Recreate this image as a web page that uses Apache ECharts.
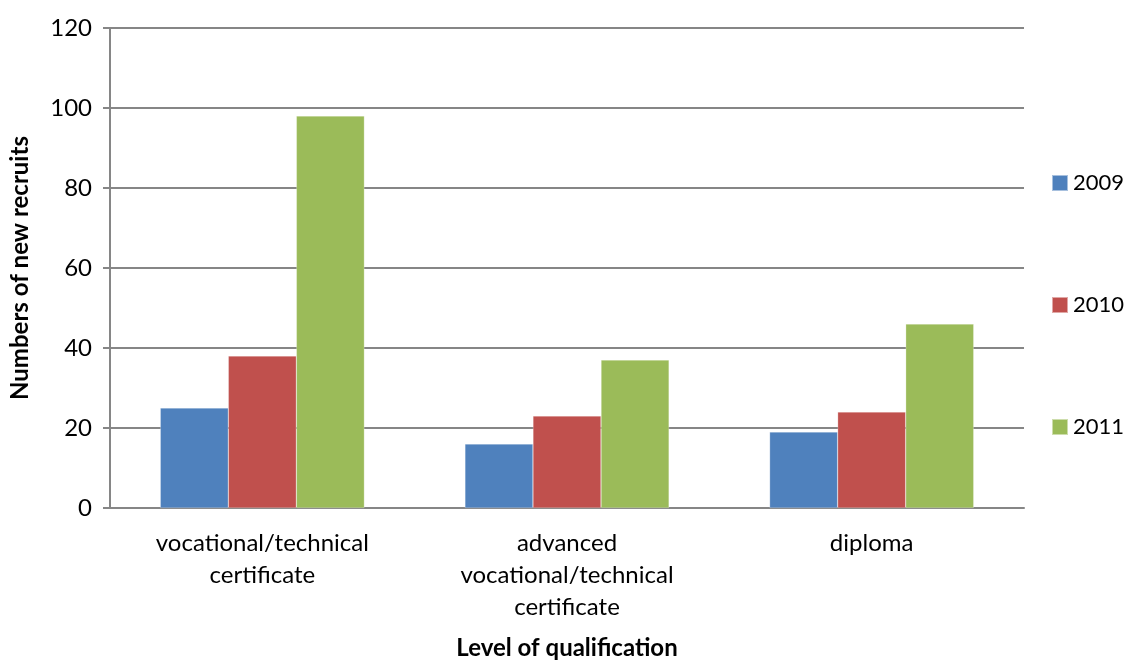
<!DOCTYPE html>
<html>
<head>
<meta charset="utf-8">
<script src="https://cdn.jsdelivr.net/npm/echarts@6/dist/echarts.min.js"></script>
<style>
  html, body { margin: 0; padding: 0; background: #fff; }
  #chart { width: 1129px; height: 660px; }
</style>
</head>
<body>
<div id="chart"></div>
<script>
// categories and the way they wrap under the axis
let categories = ['vocational/technical certificate', 'advanced vocational/technical certificate', 'diploma'];
let tickLabels = ['vocational/technical\ncertificate', 'advanced\nvocational/technical\ncertificate', 'diploma'];

// numbers of new recruits per year
let years = ['2009', '2010', '2011'];
let v2009 = [25, 16, 19];
let v2010 = [38, 23, 24];
let v2011 = [98, 37, 46];

let colors = ['#4F81BD', '#C0504D', '#9BBB59'];
let font = 'Lato, "Open Sans", sans-serif';

let chart = echarts.init(document.getElementById('chart'));

let seriesData = [v2009, v2010, v2011];
let series = [];
for (let i = 0; i < years.length; i++) {
  series.push({
    name: years[i],
    type: 'bar',
    data: seriesData[i],
    barGap: '0%',
    barCategoryGap: '33%',
    itemStyle: { color: colors[i], borderColor: 'rgba(255,255,255,0.5)', borderWidth: 0.5 }
  });
}

let option = {
  animation: false,
  backgroundColor: '#fff',
  textStyle: { fontFamily: font },
  grid: { left: 110, right: 105, top: 28, bottom: 152, outerBoundsMode: 'none' },
  legend: {
    orient: 'vertical',
    left: 1051,
    top: 172,
    padding: 0,
    itemWidth: 16,
    itemHeight: 16,
    itemGap: 100,
    icon: 'rect',
    textStyle: { fontSize: 22, color: '#000', fontFamily: font },
    data: years
  },
  xAxis: {
    type: 'category',
    data: categories,
    name: 'Level of qualification',
    nameLocation: 'middle',
    nameGap: 128,
    nameTextStyle: { fontSize: 24, fontWeight: 'bold', color: '#000', fontFamily: font },
    axisLine: { lineStyle: { color: '#868686', width: 2 } },
    axisTick: { show: false },
    axisLabel: {
      fontSize: 24,
      color: '#000',
      margin: 19,
      lineHeight: 32,
      interval: 0,
      formatter: function (value, index) {
        return tickLabels[index];
      }
    }
  },
  yAxis: {
    type: 'value',
    min: 0,
    max: 120,
    interval: 20,
    name: 'Numbers of new recruits',
    nameLocation: 'middle',
    nameGap: 78,
    nameTextStyle: { fontSize: 24, fontWeight: 'bold', color: '#000', fontFamily: font },
    axisLine: { show: true, lineStyle: { color: '#868686', width: 2 } },
    axisTick: { show: true, length: 7, lineStyle: { color: '#868686', width: 2 } },
    axisLabel: { fontSize: 24, color: '#000', margin: 18 },
    splitLine: { lineStyle: { color: '#868686', width: 2 } }
  },
  series: series
};

chart.setOption(option);
</script>
</body>
</html>
